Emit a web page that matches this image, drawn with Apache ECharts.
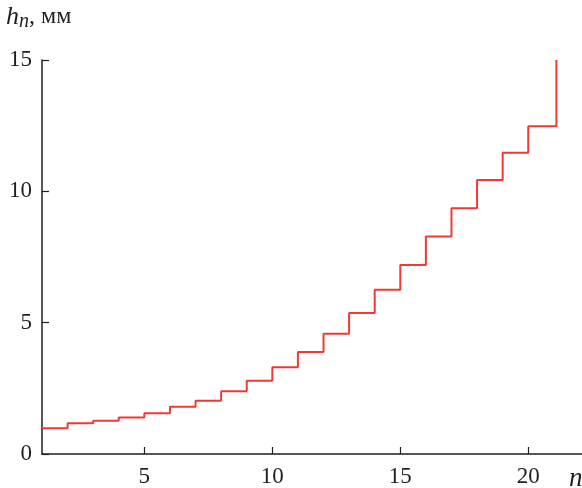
<!DOCTYPE html>
<html style="height: 100%">
<head>
<meta charset="utf-8">
<script src="https://cdn.jsdelivr.net/npm/echarts@6/dist/echarts.min.js"></script>
</head>
<body style="height: 100%; margin: 0; background: #fff">
<div id="container" style="width: 582px; height: 488px"></div>
<script type="text/javascript">
// n = 1..21, height of step n (last value is the final riser top)
var nValues = [1, 2, 3, 4, 5, 6, 7, 8, 9, 10, 11, 12, 13, 14, 15, 16, 17, 18, 19, 20, 21.1];
var hValues = [0.98, 1.17, 1.27, 1.39, 1.55, 1.80, 2.03, 2.39, 2.79, 3.30, 3.88, 4.58, 5.37, 6.25, 7.20, 8.28, 9.36, 10.43, 11.47, 12.48, 15.0];
var xTicks = [5, 10, 15, 20];
var yTicks = [0, 5, 10, 15];

var myChart = echarts.init(document.getElementById('container'));

var points = nValues.map(function (n, i) { return [n, hValues[i]]; });
var font = "'Liberation Serif', 'Times New Roman', Times, serif";
var ink = '#231f20';

var option = {
    backgroundColor: '#fff',
    animation: false,
    grid: { left: 42, right: 0, top: 60, bottom: 34 },
    xAxis: {
        type: 'value',
        min: 1,
        max: 22.1,
        splitLine: { show: false },
        axisLine: { lineStyle: { color: ink, width: 1.5 } },
        axisTick: { inside: true, length: 7, lineStyle: { color: ink, width: 1.2 }, customValues: xTicks },
        axisLabel: { customValues: xTicks, color: ink, fontFamily: font, fontSize: 23, margin: 11 }
    },
    yAxis: {
        type: 'value',
        min: 0,
        max: 15,
        interval: 5,
        splitLine: { show: false },
        axisLine: { show: true, lineStyle: { color: ink, width: 1.5 } },
        axisTick: { show: true, inside: true, length: 7, lineStyle: { color: ink, width: 1.2 }, customValues: yTicks },
        axisLabel: { customValues: yTicks, color: ink, fontFamily: font, fontSize: 23, margin: 10 }
    },
    graphic: [
        {
            type: 'text', left: 6, top: 4,
            style: {
                text: '{i|h}{s|n}{r|, мм}',
                rich: {
                    i: { fontFamily: font, fontStyle: 'italic', fontSize: 26, fill: ink },
                    s: { fontFamily: font, fontStyle: 'italic', fontSize: 20, fill: ink, padding: [10, 0, 0, 0] },
                    r: { fontFamily: font, fontSize: 24, fill: ink }
                }
            }
        },
        {
            type: 'text', left: 569, top: 465,
            style: { text: 'n', fontFamily: font, fontStyle: 'italic', fontSize: 27, fill: ink }
        }
    ],
    series: [{
        type: 'line',
        step: 'end',
        data: points,
        showSymbol: false,
        lineStyle: { color: '#f03a33', width: 2 }
    }]
};

myChart.setOption(option);
</script>
</body>
</html>
